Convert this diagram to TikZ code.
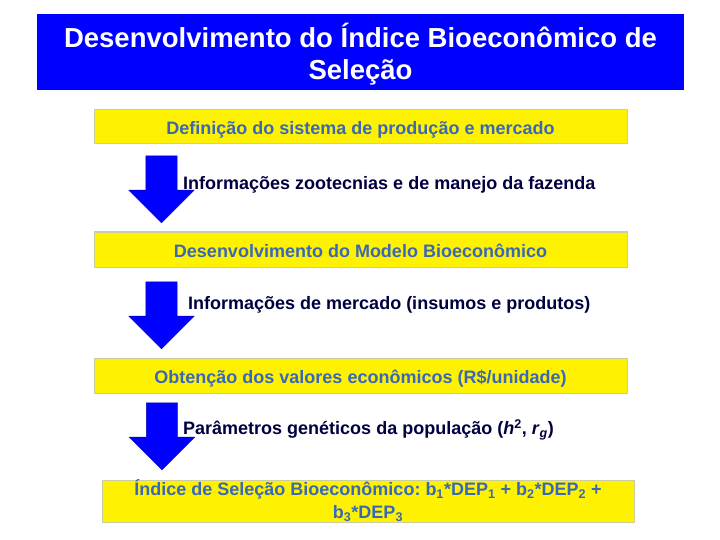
\documentclass[tikz,border=0pt]{standalone}
\usepackage{fontspec}
\setmainfont{Liberation Sans}
\frenchspacing
\usetikzlibrary{shapes.arrows}

\definecolor{titlebg}{RGB}{0,0,255}
\definecolor{boxtext}{RGB}{58,104,184}
\definecolor{boxline}{RGB}{205,205,160}
\definecolor{sidetext}{RGB}{0,0,64}

\begin{document}
\begin{tikzpicture}[x=1pt, y=-1pt]
\tikzset{el/.style={draw=boxline, line width=1pt, fill=yellow, rectangle, inner sep=0pt,
    minimum width=533pt, minimum height=35pt, text=boxtext, text height=15pt, text depth=0pt,
    font=\fontsize{18}{22}\selectfont\bfseries, align=center},
  seta/.style={single arrow, draw=blue!70!black, line width=.4pt, fill=titlebg, rotate=-90,
    inner xsep=0pt, inner ysep=15.5pt, minimum height=67pt, single arrow head extend=17pt},
  info/.style={anchor=west, inner sep=0pt, text=sidetext, font=\fontsize{18}{22}\selectfont\bfseries}}

\useasboundingbox (0,0) rectangle (720,540);

% Title
\fill[titlebg] (37,14) rectangle (684,90);
\node[align=center, text=white, font=\fontsize{27.5}{32}\selectfont\bfseries] (title) at (360.5,54)
{Desenvolvimento do Índice Bioeconômico de\\Seleção};

% Steps
\node[el, minimum height=34pt] (def) at (360.5,127) {Definição do sistema de produção e mercado};
\node[el] (modelo) at (360.5,249.5) {Desenvolvimento do Modelo Bioeconômico};
\node[el] (valores) at (360.5,375.5) {Obtenção dos valores econômicos (R\$/unidade)};
\node[el, minimum width=532pt, minimum height=42pt, text height=, text depth=,
  font=\fontsize{18}{23}\selectfont\bfseries] (indice) at (368,501)
{Índice de Seleção Bioeconômico: b\textsubscript{1}*DEP\textsubscript{1} + b\textsubscript{2}*DEP\textsubscript{2} +\\b\textsubscript{3}*DEP\textsubscript{3}};

% Arrows
\node[seta] (s1) at (161.5,181.5) {};
\node[seta] (s2) at (161.5,307.5) {};
\node[seta] (s3) at (162,428.5) {};

% Inputs
\node[info] (zoo) at (183,184.5) {Informações zootecnias e de manejo da fazenda};
\node[info] (merc) at (188,304.5) {Informações de mercado (insumos e produtos)};
\node[info] (gen) at (183,429.5) {Parâmetros genéticos da população (\textit{h}\textsuperscript{2}, \textit{r}\textsubscript{\textit{g}})};

\end{tikzpicture}
\end{document}
